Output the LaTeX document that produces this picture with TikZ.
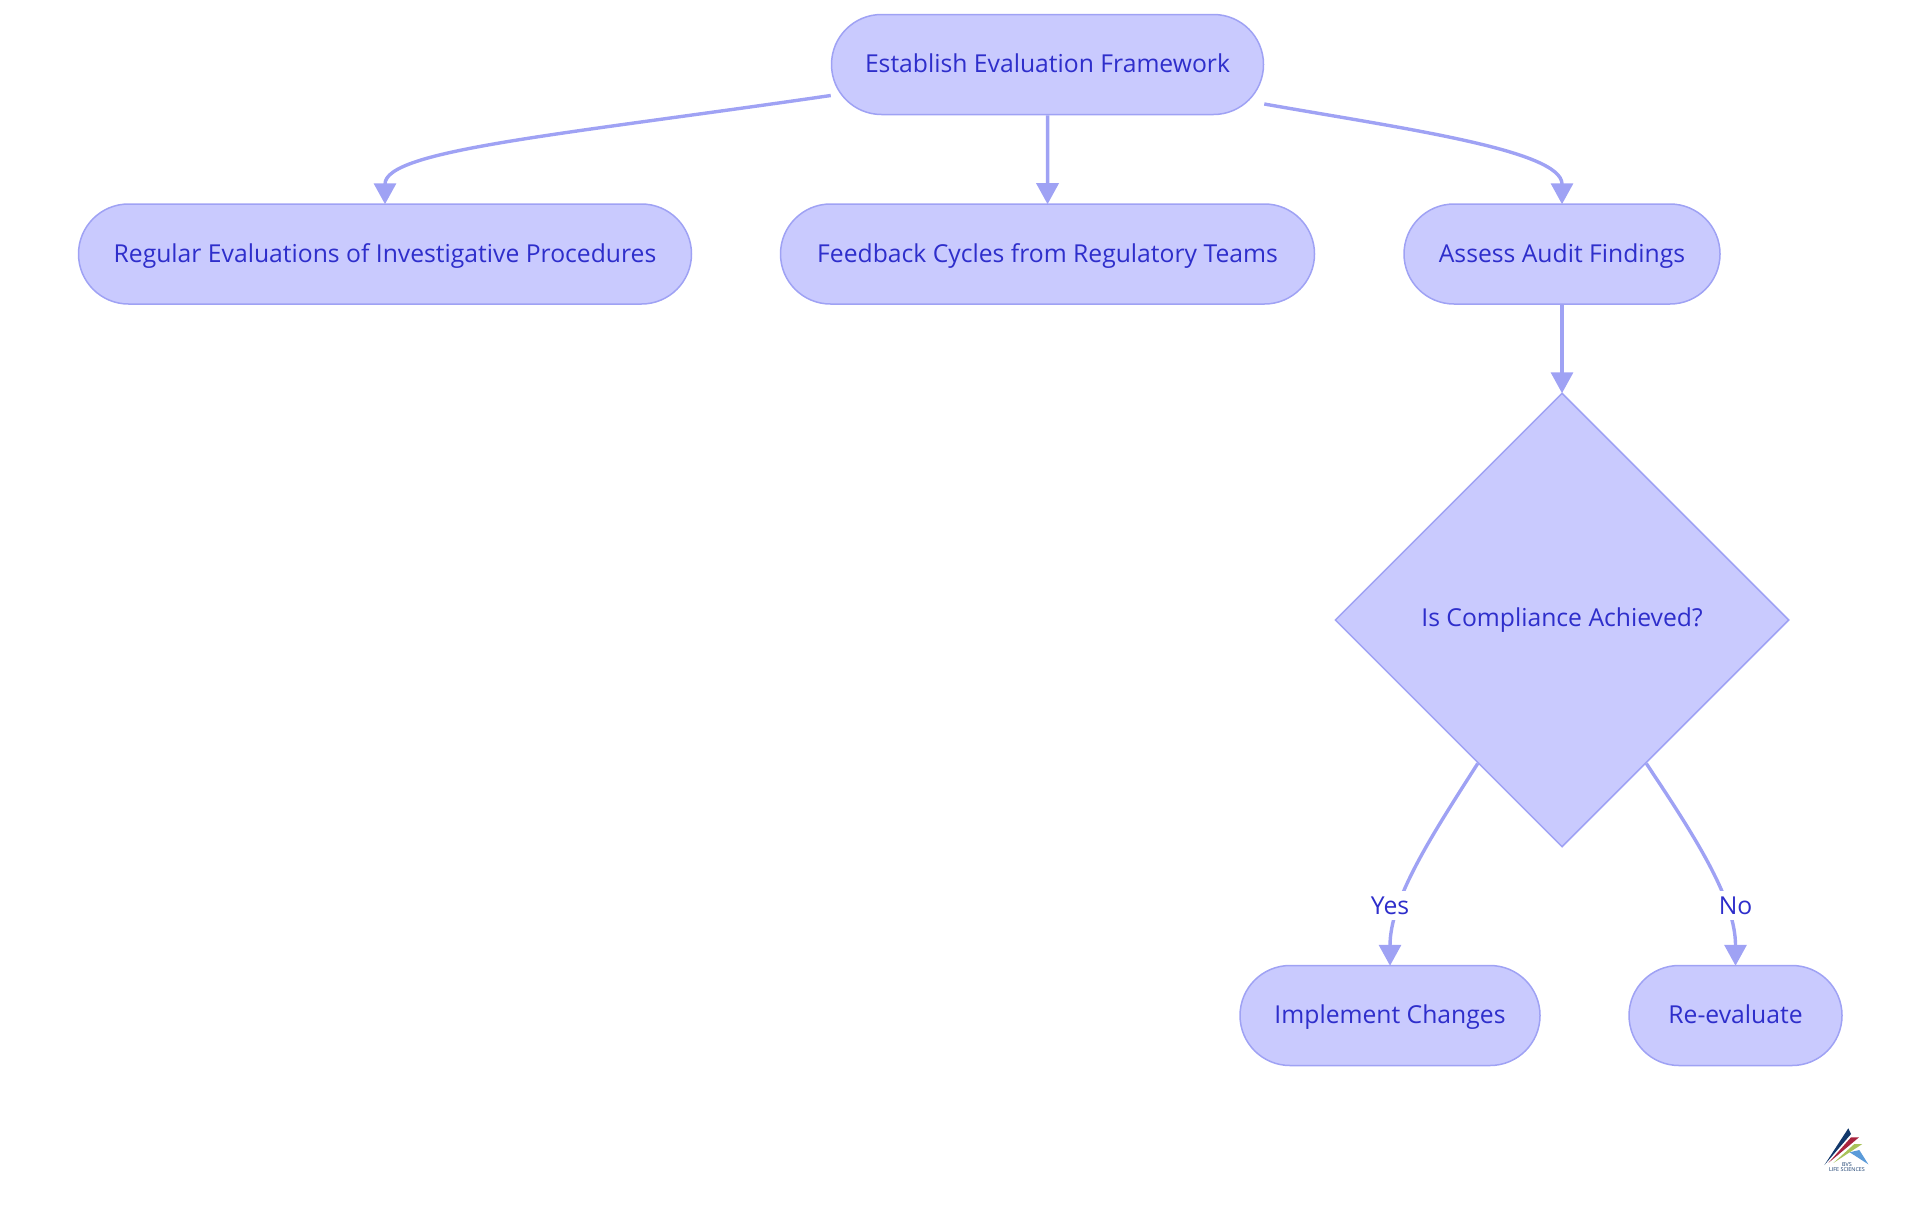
\documentclass[tikz,border=0pt]{standalone}
\usepackage{fontspec}
\setmainfont{Open Sans}
\usetikzlibrary{shapes.geometric,shapes.misc,arrows.meta,calc}
\definecolor{nodefill}{HTML}{C9CAFE}
\definecolor{edgecol}{HTML}{9FA2F4}
\definecolor{textcol}{HTML}{2E2ECB}
\definecolor{logonavy}{HTML}{12386B}
\definecolor{logored}{HTML}{A8243F}
\definecolor{logogreen}{HTML}{A9C35A}
\definecolor{logoblue}{HTML}{5B9BD9}
\tikzset{
  x=0.5pt,y=-0.5pt,
  pill/.style={rounded rectangle,rounded rectangle arc length=180,draw=edgecol,fill=nodefill,line width=0.75pt,
    minimum height=50pt,inner sep=0pt,text=textcol,text height=10.6pt,text depth=2.6pt,font=\fontsize{12.35}{14}\selectfont},
  choice/.style={diamond,draw=edgecol,fill=nodefill,line width=0.75pt,minimum width=227pt,minimum height=227pt,
    inner sep=0pt,text=textcol,font=\fontsize{12.35}{14}\selectfont},
  link/.style={draw=edgecol,line width=1.7pt,shorten >=-0.5pt,-{Triangle[length=10.5pt,width=11pt]}},
  tag/.style={fill=white,inner xsep=1pt,inner ysep=0pt,minimum height=14.5pt,text=textcol,font=\fontsize{12.35}{14}\selectfont},
  logotext/.style={inner sep=0pt,text=logonavy,font=\fontsize{2.7}{3}\selectfont}
}
\begin{document}
\begin{tikzpicture}
\useasboundingbox (0,0) rectangle (1920,1215);
\node[pill,minimum width=216pt] (top) at (1047.5,64.5) {Establish Evaluation Framework};
\node[pill,minimum width=306.5pt] (regular) at (385,254) {Regular Evaluations of Investigative Procedures};
\node[pill,minimum width=267pt] (feedback) at (1047.5,254) {Feedback Cycles from Regulatory Teams};
\node[pill,minimum width=158pt] (assess) at (1562,254) {Assess Audit Findings};
\node[choice] (dia) at (1562,620) {Is Compliance Achieved?};
\node[pill,minimum width=150pt] (impl) at (1390,1015.5) {Implement Changes};
\node[pill,minimum width=106.5pt] (reev) at (1735.5,1015.5) {Re-evaluate};
\draw[link] ([yshift=-15.5pt]top.west) .. controls (560,135) and (385,150) .. (regular.north);
\draw[link] (top) -- (feedback);
\draw[link] ([yshift=-19.75pt]top.east) .. controls (1400,128) and (1562,150) .. (assess.north);
\draw[link] (assess.south) -- (dia.north);
\draw[link] ($(dia.west)!0.63!(dia.south)$) .. controls (1430,838) and (1390,900) .. (impl.north);
\draw[link] ($(dia.east)!0.63!(dia.south)$) .. controls (1696,838) and (1735.5,900) .. (reev.north);
\node[tag] (yes) at (1390,905.5) {Yes};
\node[tag] (no) at (1735.5,905.5) {No};
\fill[logonavy] (1824.4,1165) -- (1848.3,1128.3) -- (1851,1134) -- cycle;
\fill[logored] (1828.3,1163) -- (1851,1137.3) -- (1859,1137.3) -- cycle;
\fill[logogreen] (1833.3,1163) -- (1854.3,1144) -- (1862.3,1144) -- cycle;
\fill[logoblue] (1849.7,1152.3) -- (1859.3,1150) -- (1868.3,1164.3) -- cycle;
\node[logotext] (logoa) at (1847,1164.6) {BVS};
\node[logotext] (logob) at (1847,1169.2) {LIFE SCIENCES};
\end{tikzpicture}
\end{document}
